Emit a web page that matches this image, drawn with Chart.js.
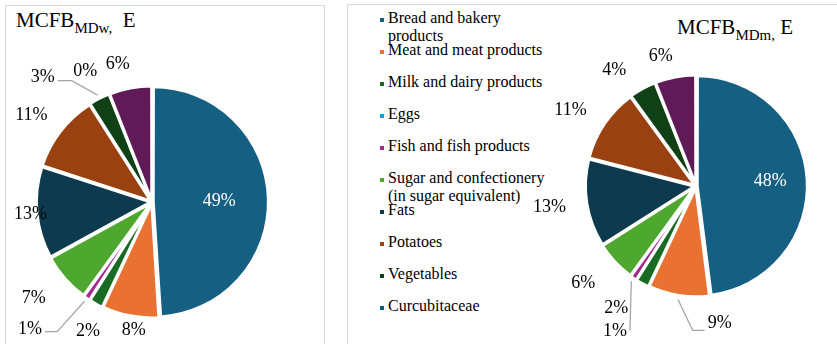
<!DOCTYPE html>
<html>
<head>
<meta charset="utf-8">
<script src="https://cdn.jsdelivr.net/npm/chart.js@4.4.1/dist/chart.umd.min.js"></script>
<style>
  html, body { margin: 0; padding: 0; background: #fff; overflow: hidden; }
  body { width: 837px; height: 344px; position: relative; font-family: "Liberation Serif", "Times New Roman", serif; color: #000; }
  .panel { position: absolute; border: 1px solid #d9d9d9; box-sizing: border-box; }
  #panelW { left: 5px; top: 5px; width: 320px; height: 400px; }
  #panelM { left: 347px; top: 4px; width: 520px; height: 400px; }
  .title { position: absolute; font-size: 21px; line-height: 21px; white-space: nowrap; }
  .title .sub { font-size: 15px; position: relative; top: 6px; }
  .pie { position: absolute; }
  .item { position: absolute; left: 388px; width: 165px; font-size: 16px; line-height: 18px; }
  .mark { position: absolute; left: -8px; top: 9px; width: 4px; height: 4px; }
</style>
</head>
<body>
<div class="panel" id="panelW"></div>
<div class="panel" id="panelM"></div>

<div class="title" style="left:16px; top:10px;">MCFB<span class="sub">MDw,</span>&nbsp;&nbsp;E</div>
<div class="title" style="left:677px; top:17px;">MCFB<span class="sub">MDm,</span> E</div>

<div id="legend"></div>

<div class="pie" style="left:2px; top:42px;"><canvas id="pieW" width="300" height="320"></canvas></div>
<div class="pie" style="left:496px; top:26px;"><canvas id="pieM" width="400" height="320"></canvas></div>

<script>
// food groups, in the order the slices run clockwise from 12 o'clock
const categories = [
  "Bread and bakery products",
  "Meat and meat products",
  "Milk and dairy products",
  "Eggs",
  "Fish and fish products",
  "Sugar and confectionery (in sugar equivalent)",
  "Fats",
  "Potatoes",
  "Vegetables",
  "Curcubitaceae",
  "Other"
];

// share of energy, %  (null = no slice, no label)
const valuesMDw = [49, 8, 2, null, 1, 7, 13, 11, 3, 0, 6];
const valuesMDm = [48, 9, 2, null, 1, 6, 13, 11, 4, null, 6];

const colors = [
  "#156082", "#E97132", "#196B24", "#0F9ED5", "#A02B93", "#4EA72E",
  "#0D3A4E", "#994111", "#0F4016", "#095F80", "#601A58"
];

const legendCount = 10;
const labelFont = '18px "Liberation Serif"';

// legend on the left of the second panel
const legendEl = document.getElementById("legend");
categories.slice(0, legendCount).forEach(function (name, i) {
  const item = document.createElement("div");
  item.className = "item";
  item.style.top = (9 + 32 * i) + "px";
  const mark = document.createElement("span");
  mark.className = "mark";
  mark.style.background = colors[i];
  item.appendChild(mark);
  item.appendChild(document.createTextNode(name));
  legendEl.appendChild(item);
});

// percentage labels, outside the pie, with leader lines for the thin slices
const pieLabels = {
  id: "pieLabels",
  afterDatasetsDraw(chart, args, opts) {
    const ctx = chart.ctx;
    const meta = chart.getDatasetMeta(0);
    const data = chart.data.datasets[0].data;
    const off = chart.data.datasets[0].offset;
    ctx.save();
    ctx.font = labelFont;
    ctx.textAlign = "center";
    ctx.textBaseline = "middle";
    meta.data.forEach(function (arc, i) {
      const v = data[i];
      if (v === null) return;
      const p = arc.getProps(["x", "y", "startAngle", "endAngle", "outerRadius"], true);
      const mid = (p.startAngle + p.endAngle) / 2;
      const n = opts.nudge[i] || [0, 0];
      const inside = i === 0;
      const dist = inside ? p.outerRadius * 0.6 : p.outerRadius + opts.gap;
      const lx = p.x + Math.cos(mid) * dist + n[0];
      const ly = p.y + Math.sin(mid) * dist + n[1];
      const text = v + "%";

      const lead = opts.leaders[i];
      if (lead) {
        const ax = p.x + Math.cos(mid) * (p.outerRadius + off + 1);
        const ay = p.y + Math.sin(mid) * (p.outerRadius + off + 1);
        const w = ctx.measureText(text).width;
        const side = ax > lx ? 1 : -1;
        const sx = lx + side * (w / 2 + 3);
        const sy = ly + lead.dy;
        ctx.beginPath();
        ctx.strokeStyle = "#a6a6a6";
        ctx.lineWidth = 1.3;
        ctx.moveTo(sx, sy);
        ctx.lineTo(sx + side * lead.elbow, sy);
        ctx.lineTo(ax, ay);
        ctx.stroke();
      }

      ctx.fillStyle = inside ? "#ffffff" : "#000000";
      ctx.fillText(text, lx, ly);
    });
    ctx.restore();
  }
};

function makePie(id, values, radius, labelOpts) {
  return new Chart(document.getElementById(id).getContext("2d"), {
    type: "pie",
    data: {
      labels: categories,
      datasets: [{
        data: values,
        backgroundColor: colors,
        borderColor: "#ffffff",
        borderWidth: 3,
        offset: 5,
        radius: radius
      }]
    },
    options: {
      responsive: false,
      animation: false,
      devicePixelRatio: 1,
      layout: { padding: 0 },
      plugins: {
        legend: { display: false },
        tooltip: { enabled: false },
        pieLabels: labelOpts
      }
    },
    plugins: [pieLabels]
  });
}

function drawCharts() {
  makePie("pieW", valuesMDw, 114, {
    gap: 21,
    nudge: [[-1, 1], [7, -4], [1, 11], [0, 0], [-46, 16], [-17, 7], [13, 0], [-14, -4], [-48, -4], [-17, -5], [-9, -5]],
    leaders: { 4: { elbow: 12, dy: 2 }, 8: { elbow: 14, dy: 3 } }
  });

  makePie("pieM", valuesMDm, 109, {
    gap: 21,
    nudge: [[9, -1], [44, 9], [-17, 8], [0, 0], [-8, 38], [-18, 8], [-18, 1], [-18, -3], [-19, -2], [0, 0], [-11, -2]],
    leaders: { 1: { elbow: 12, dy: 7 }, 4: { elbow: 0, dy: -1 } }
  });
}

// make sure the serif face is ready before the canvas text is drawn
document.fonts.load(labelFont, "0123456789%").then(drawCharts, drawCharts);
</script>
</body>
</html>
